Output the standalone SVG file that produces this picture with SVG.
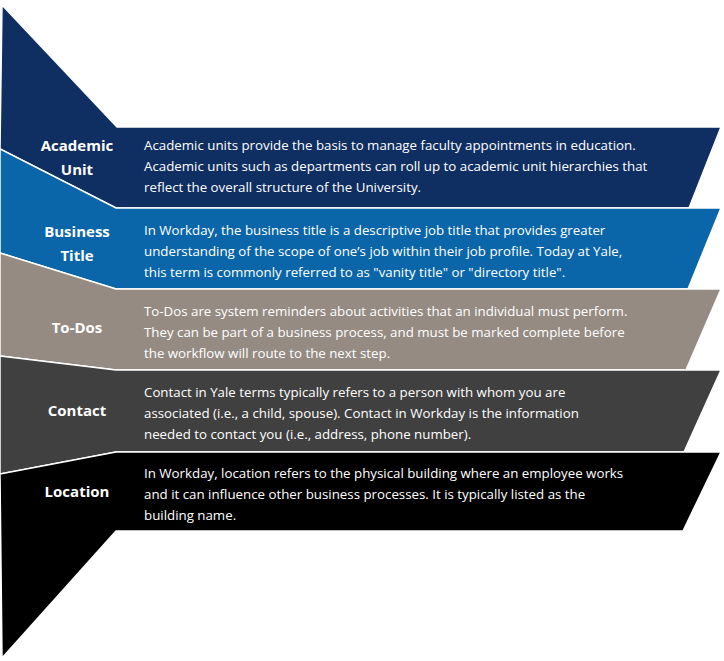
<svg xmlns="http://www.w3.org/2000/svg" width="724" height="661" viewBox="0 0 724 661">
<style>
.b{stroke:#fff;stroke-width:1.5;stroke-linejoin:miter}
.l{font-family:"Open Sans",sans-serif;font-weight:bold;font-size:15px;fill:#fff;text-anchor:middle}
.d{font-family:"Open Sans",sans-serif;font-size:13.3px;fill:#fff}
</style>
<rect width="724" height="661" fill="#fff"/>
<g id="academic-unit">
<polygon class="b" fill="#0f2e61" points="2,5 117,127 721,127 689,208 116,208 0,149"/>
<text class="l" x="77" y="151">Academic</text><text class="l" x="77" y="175">Unit</text>
<text class="d" x="144" y="150">Academic units provide the basis to manage faculty appointments in education.</text>
<text class="d" x="144" y="171">Academic units such as departments can roll up to academic unit hierarchies that</text>
<text class="d" x="144" y="192">reflect the overall structure of the University.</text>
</g>
<g id="business-title">
<polygon class="b" fill="#0a66a8" points="0,149 116,208 721,208 688,289 116,289 0,253"/>
<text class="l" x="77" y="237">Business</text><text class="l" x="77" y="261">Title</text>
<text class="d" x="144" y="235">In Workday, the business title is a descriptive job title that provides greater</text>
<text class="d" x="144" y="256">understanding of the scope of one’s job within their job profile. Today at Yale,</text>
<text class="d" x="144" y="277">this term is commonly referred to as "vanity title" or "directory title".</text>
</g>
<g id="to-dos">
<polygon class="b" fill="#958b83" points="0,253 116,289 721,289 686,370 116,370 0,356"/>
<text class="l" x="77" y="333">To-Dos</text>
<text class="d" x="144" y="316">To-Dos are system reminders about activities that an individual must perform.</text>
<text class="d" x="144" y="337">They can be part of a business process, and must be marked complete before</text>
<text class="d" x="144" y="358">the workflow will route to the next step.</text>
</g>
<g id="contact">
<polygon class="b" fill="#404040" points="0,356 116,370 721,370 684,452 116,452 0,474"/>
<text class="l" x="77" y="416">Contact</text>
<text class="d" x="144" y="397">Contact in Yale terms typically refers to a person with whom you are</text>
<text class="d" x="144" y="418">associated (i.e., a child, spouse). Contact in Workday is the information</text>
<text class="d" x="144" y="439">needed to contact you (i.e., address, phone number).</text>
</g>
<g id="location">
<polygon class="b" fill="#000" points="0,474 116,452 721,452 683,531 116,531 2,658"/>
<text class="l" x="77" y="497">Location</text>
<text class="d" x="144" y="478">In Workday, location refers to the physical building where an employee works</text>
<text class="d" x="144" y="499">and it can influence other business processes. It is typically listed as the</text>
<text class="d" x="144" y="520">building name.</text>
</g>
<g id="connectors"/>
</svg>
